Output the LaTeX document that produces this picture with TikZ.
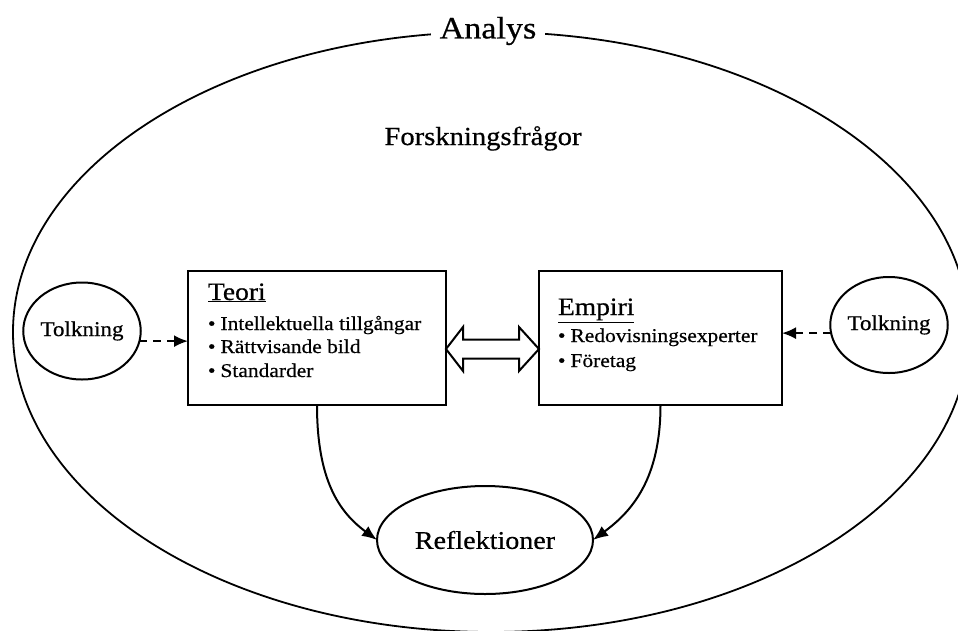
\documentclass[tikz,border=0pt]{standalone}
\usepackage{fontspec}
\setmainfont[FakeStretch=1.1,FakeBold=0.6]{Liberation Serif}
\usetikzlibrary{arrows.meta,shapes.geometric,calc}
\newcommand\fAnalys{\fontsize{31}{36}\selectfont}
\newcommand\fForsk{\fontsize{26}{30}\selectfont}
\newcommand\fHead{\fontsize{25}{29}\selectfont}
\newcommand\fItem{\fontsize{19.5}{23}\selectfont}
\newcommand\fTolk{\fontsize{21}{25}\selectfont}
\newcommand\fRefl{\fontsize{25.5}{30}\selectfont}
\begin{document}
\begin{tikzpicture}[x=1pt,y=-1pt,
  every node/.style={inner sep=0pt, outer sep=0pt},
  lw/.style={line width=2pt},
  boxnode/.style={draw, rectangle, line width=2pt, minimum height=134pt},
  roundnode/.style={draw, ellipse, line width=2pt},
  txt/.style={anchor=base west},
  tip/.style={-{Latex[length=15pt,width=12pt]}},
  dasharrow/.style={line width=2pt, dash pattern=on 8pt off 6pt, -{Latex[length=14pt,width=12pt]}}]
\useasboundingbox (0,0) rectangle (958,630);
\fill[white] (0,0) rectangle (958,630);
\begin{scope}
  \clip (0,0) rectangle (958,630);
  \node[draw, ellipse, line width=1.8pt, minimum width=956pt, minimum height=600pt] (analys) at (491,332) {};
\end{scope}
\node[fill=white, inner xsep=9pt, inner ysep=3pt, font=\fAnalys] (analyslbl) at (488,31) {Analys};
\node[anchor=base, font=\fForsk] (forsk) at (483,145) {Forskningsfrågor};

% boxes
\node[boxnode, minimum width=258pt] (teori) at (317,338) {};
\node[boxnode, minimum width=243pt] (empiri) at (660.5,338) {};

\node[txt, font=\fHead] (teoriH) at (208,300) {\underline{Teori}};
\node[txt, font=\fItem] (teori1) at (208,330) {•\hspace{5pt}Intellektuella tillgångar};
\node[txt, font=\fItem] (teori2) at (208,353) {•\hspace{5pt}Rättvisande bild};
\node[txt, font=\fItem] (teori3) at (208,377) {•\hspace{5pt}Standarder};

\node[txt, font=\fHead] (empiriH) at (558,315) {\underline{Empiri}};
\node[txt, font=\fItem] (empiri1) at (558,342) {•\hspace{5pt}Redovisningsexperter};
\node[txt, font=\fItem] (empiri2) at (558,367) {•\hspace{5pt}Företag};

% round nodes
\node[roundnode, minimum width=110pt, minimum height=97pt, font=\fTolk] (tolkL) at (82,331) {\raisebox{-4pt}{Tolkning}};
\node[roundnode, minimum width=108pt, minimum height=96pt, font=\fTolk] (tolkR) at (889,325) {\raisebox{-2pt}{Tolkning}};
\node[roundnode, minimum width=216pt, minimum height=108pt, font=\fRefl] (refl) at (485,540) {Reflektioner};

% dashed arrows
\draw[dasharrow] (tolkL.-10) -- (tolkL.-10 -| teori.west);
\draw[dasharrow] (tolkR.188) -- (tolkR.188 -| empiri.east);

% double arrow
\coordinate (dy) at (0,349);
\coordinate (dl) at (teori.east |- dy);
\coordinate (dr) at (empiri.west |- dy);
\draw[lw, line join=miter] (dl) -- ++(17,-22) -- ++(0,12.5) -- ($(dr)+(-20,-9.5)$) -- ++(0,-12.5) -- (dr)
  -- ++(-20,22) -- ++(0,-12.5) -- ($(dl)+(17,9.5)$) -- ++(0,12.5) -- cycle;

% curved arrows
\draw[lw, tip] (teori.south) .. controls ($(teori.south)+(0,75)$) and ($(refl.west)+(-38,-28)$) .. (refl.west);
\draw[lw, tip] (empiri.south) .. controls ($(empiri.south)+(0,75)$) and ($(refl.east)+(38,-28)$) .. (refl.east);
\end{tikzpicture}
\end{document}
